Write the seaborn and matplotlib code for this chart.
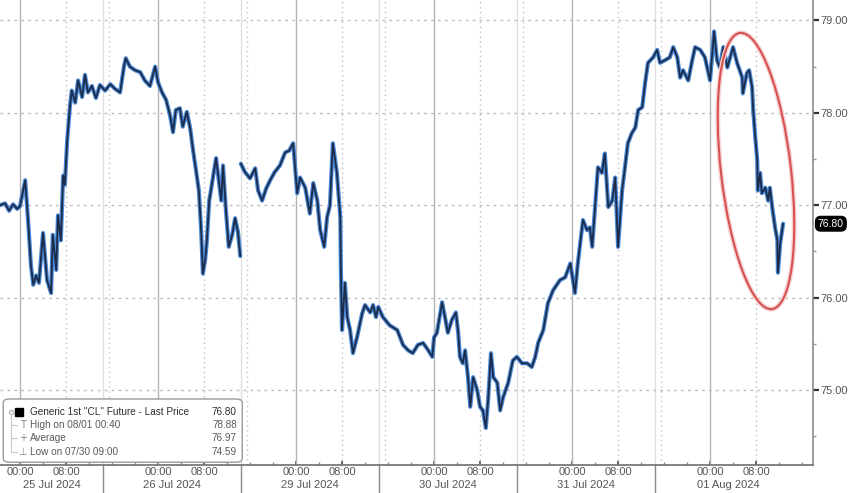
import pandas as pd
import matplotlib.pyplot as plt
import matplotlib.transforms as mtransforms
from matplotlib.patches import Ellipse, FancyBboxPatch
from matplotlib.ticker import FixedLocator, FormatStrFormatter
import seaborn as sns

# 1. theme / fonts
sns.set_theme(style="white")
plt.rcParams["font.family"] = ["Liberation Sans", "DejaVu Sans"]

# 2. data (trading-time hours from 25 Jul 00:00, weekend removed)
hours_jul25_26 = [-3.5, -2.6, -1.9, -1.2, -0.5, 0.0, 0.9, 1.4, 1.9, 2.3, 2.8, 3.3, 4.0, 4.7, 5.4,
                  5.7, 6.3, 6.6, 7.1, 7.5, 7.8, 8.2, 8.7, 9.0, 9.6, 10.1, 10.8, 11.3, 11.8, 12.5,
                  13.2, 13.9, 14.8, 15.7, 16.5, 17.4, 18.1, 18.4, 19.1, 20.0, 20.9, 21.7, 22.6, 23.5,
                  24.0, 24.7, 25.4, 26.1, 26.6, 27.1, 27.8, 28.3, 29.0, 29.6, 30.1, 30.6, 31.1, 31.5,
                  31.8, 32.2, 32.5, 32.9, 33.2, 33.6, 34.1, 34.6, 35.0, 35.3, 35.8, 36.3, 36.9, 37.4,
                  37.9, 38.3]
price_jul25_26 = [77.00, 77.02, 76.94, 77.01, 76.96, 76.99, 77.27, 76.84, 76.35, 76.14, 76.24, 76.16,
                  76.70, 76.19, 76.05, 76.68, 76.30, 76.89, 76.62, 77.32, 77.22, 77.70, 78.08, 78.24,
                  78.11, 78.35, 78.17, 78.41, 78.22, 78.29, 78.16, 78.30, 78.24, 78.31, 78.26, 78.22,
                  78.51, 78.59, 78.50, 78.46, 78.44, 78.35, 78.29, 78.50, 78.33, 78.22, 78.14, 77.97,
                  77.79, 78.03, 78.05, 77.85, 78.01, 77.83, 77.59, 77.38, 77.16, 76.73, 76.26, 76.41,
                  76.62, 77.05, 77.16, 77.32, 77.51, 77.25, 77.05, 77.43, 76.95, 76.55, 76.68, 76.86,
                  76.71, 76.45]

hours_jul29_aug1 = [38.4, 39.1, 40.0, 40.9, 41.4, 42.1, 42.8, 43.5, 44.3, 45.2,
                    46.1, 46.8, 47.5, 48.2, 48.7, 49.6, 50.4, 51.0, 51.7, 52.2,
                    52.9, 53.4, 53.9, 54.4, 55.1, 55.7, 55.8, 56.0, 56.5, 56.9,
                    57.4, 57.9, 58.6, 59.5, 60.0, 60.9, 61.4, 61.9, 62.3, 63.1,
                    64.3, 65.6, 66.6, 67.5, 68.3, 69.2, 70.1, 71.0, 71.7, 72.0,
                    72.5, 73.4, 73.9, 74.4, 75.1, 75.8, 76.2, 76.5, 77.0, 77.4,
                    77.9, 78.3, 78.8, 79.5, 80.0, 80.5, 81.0, 81.4, 81.9, 82.3,
                    83.0, 83.5, 84.0, 84.9, 85.7, 86.4, 87.3, 88.2, 89.0, 89.6,
                    90.1, 91.0, 91.8, 92.7, 93.9, 94.8, 95.7, 96.5, 97.0, 97.9,
                    98.6, 99.1, 99.5, 100.0, 100.5, 101.2, 101.7, 102.3, 103.0, 103.5,
                    104.0, 104.7, 105.2, 105.7, 106.4, 107.0, 107.5, 108.2, 108.7, 109.2,
                    110.1, 110.8, 111.3, 112.2, 113.0, 113.6, 114.3, 114.8, 115.3, 116.2,
                    116.9, 117.4, 118.3, 119.1, 120.0, 120.7, 121.2, 121.7, 122.3, 123.0,
                    123.5, 124.0, 124.7, 125.6, 125.7, 126.4, 126.8, 127.3, 127.5, 127.8,
                    128.2, 128.3, 128.7, 129.0, 129.6, 130.1, 130.4, 130.8, 131.3, 131.7,
                    131.8, 132.2, 132.7]
price_jul29_aug1 = [77.45, 77.36, 77.29, 77.40, 77.16, 77.05, 77.18, 77.27, 77.36, 77.43,
                    77.57, 77.59, 77.67, 77.13, 77.30, 77.19, 76.91, 77.24, 77.05, 76.73,
                    76.55, 76.87, 77.00, 77.67, 77.35, 76.87, 76.30, 75.65, 76.16, 75.79,
                    75.65, 75.40, 75.57, 75.83, 75.92, 75.84, 75.92, 75.79, 75.90, 75.79,
                    75.70, 75.65, 75.49, 75.43, 75.40, 75.49, 75.51, 75.43, 75.36, 75.57,
                    75.62, 75.95, 75.79, 75.62, 75.76, 75.84, 75.62, 75.36, 75.29, 75.43,
                    75.14, 74.82, 75.14, 75.00, 74.82, 74.78, 74.59, 74.89, 75.40, 75.14,
                    75.08, 74.78, 74.92, 75.08, 75.32, 75.36, 75.29, 75.29, 75.25, 75.36,
                    75.51, 75.65, 75.94, 76.08, 76.19, 76.22, 76.37, 76.05, 76.37, 76.84,
                    76.73, 76.76, 76.55, 76.98, 77.41, 77.35, 77.56, 76.98, 77.05, 77.30,
                    76.55, 77.16, 77.41, 77.67, 77.78, 77.84, 78.03, 78.06, 78.32, 78.54,
                    78.60, 78.68, 78.54, 78.57, 78.60, 78.71, 78.60, 78.38, 78.46, 78.35,
                    78.57, 78.71, 78.68, 78.60, 78.35, 78.88, 78.57, 78.49, 78.71, 78.49,
                    78.60, 78.71, 78.54, 78.38, 78.21, 78.43, 78.46, 78.28, 78.03, 77.78,
                    77.49, 77.16, 77.35, 77.13, 77.19, 77.05, 77.19, 76.98, 76.76, 76.62,
                    76.27, 76.59, 76.80]

day_labels = ["25 Jul 2024", "26 Jul 2024", "29 Jul 2024", "30 Jul 2024", "31 Jul 2024", "01 Aug 2024"]
hour_labels = ["00:00", "08:00"]
y_ticks = [75, 76, 77, 78, 79]

legend_labels = ['Generic 1st "CL" Future - Last Price', "High on 08/01 00:40", "Average", "Low on 07/30 09:00"]
legend_values = [76.80, 78.88, 76.97, 74.59]
last_price = 76.80

df1 = pd.DataFrame({"hour": hours_jul25_26, "price": price_jul25_26})
df2 = pd.DataFrame({"hour": hours_jul29_aug1, "price": price_jul29_aug1})

# 3. canvas
fig = plt.figure(figsize=(8.48, 4.93), dpi=100)
ax = fig.add_axes([0, 28 / 493, 813 / 848, 465 / 493])

x_min, x_max = -3.48, 137.9
ax.set_xlim(x_min, x_max)
ax.set_ylim(74.19, 79.22)

# vertical grid: session structure per day
sep_offset = 14.4
for d in range(len(day_labels)):
    base = d * 24
    ax.axvline(base, color="#b4b4b4", lw=1.0, zorder=1)
    ax.axvline(base + 8, color="#bdbdbd", lw=1.0, ls=(0, (1, 2.5)), zorder=1)
    if d < len(day_labels) - 1:
        ax.axvline(base + sep_offset, color="#dedede", lw=0.9, zorder=1)
        ax.axvline(base + sep_offset + 1.0, color="#c4c4c4", lw=1.0, ls=(0, (1, 2.5)), zorder=1)
        ax.axvline(base + sep_offset, ymin=-28 / 465, ymax=0, color="#8a8a8a", lw=1.0, clip_on=False)

# horizontal grid
for yv in y_ticks:
    ax.axhline(yv, color="#bdbdbd", lw=1.0, ls=(0, (2, 3)), zorder=1)

# price line: two-tone like the terminal chart
for df in (df1, df2):
    sns.lineplot(data=df, x="hour", y="price", estimator=None, sort=False,
                 color="#4a88d6", lw=3.0, ax=ax, zorder=3)
    sns.lineplot(data=df, x="hour", y="price", estimator=None, sort=False,
                 color="#1c2b48", lw=1.3, ax=ax, zorder=4)

# axes styling
for s in ["left", "top"]:
    ax.spines[s].set_visible(False)
ax.spines["right"].set_color("#8c8c8c")
ax.spines["bottom"].set_color("#6e6e6e")
ax.spines["right"].set_linewidth(1.2)
ax.spines["bottom"].set_linewidth(1.2)
ax.set_xlabel("")
ax.set_ylabel("")

ax.yaxis.tick_right()
ax.set_yticks(y_ticks)
ax.yaxis.set_major_formatter(FormatStrFormatter("%.2f"))
ax.yaxis.set_minor_locator(FixedLocator([y + 0.5 for y in range(74, 79)]))
ax.tick_params(axis="y", which="major", direction="out", length=4, width=1.6, color="#333333",
               labelsize=8, labelcolor="#555555", pad=1, right=True, left=False)
ax.tick_params(axis="y", which="minor", direction="out", length=2, width=1, color="#999999", right=True, left=False)

xt, xl = [], []
for d in range(len(day_labels)):
    for hl in hour_labels:
        xt.append(d * 24 + int(hl[:2]))
        xl.append(hl)
ax.set_xticks(xt)
ax.set_xticklabels(xl)
ax.xaxis.set_minor_locator(FixedLocator([h for h in range(0, 138, 4)]))
ax.tick_params(axis="x", which="major", direction="in", length=3, color="#555555",
               labelsize=8, labelcolor="#555555", pad=1.5, bottom=True)
ax.tick_params(axis="x", which="minor", direction="in", length=2, color="#888888", bottom=True)

# date labels centred on each session block
blend = mtransforms.blended_transform_factory(ax.transData, ax.transAxes)
bounds = [x_min] + [d * 24 + sep_offset for d in range(len(day_labels) - 1)] + [135.8]
for i, lab in enumerate(day_labels):
    ax.text((bounds[i] + bounds[i + 1]) / 2, -0.043, lab, transform=blend, ha="center", va="center",
            fontsize=8, color="#555555")

# last price tag
tag_tr = mtransforms.blended_transform_factory(ax.transAxes, ax.transData)
ax.text(1.006, last_price, f"{last_price:.2f}", transform=tag_tr, ha="left", va="center",
        fontsize=7.5, color="white", clip_on=False,
        bbox=dict(boxstyle="round,pad=0.22,rounding_size=0.5", fc="black", ec="black"))

# legend box
box = FancyBboxPatch((0.004, 0.006), 0.294, 0.136, transform=ax.transAxes,
                     boxstyle="round,pad=0,rounding_size=0.008", fc="white", ec="#9a9a9a", lw=1.0, zorder=6)
ax.add_patch(box)
rows_y = [0.114, 0.086, 0.057, 0.029]
ax.plot([0.0135, 0.0135], [rows_y[0], rows_y[-1]], transform=ax.transAxes, color="#c8c8c8", lw=0.8, zorder=7)
for ry in rows_y[1:]:
    ax.plot([0.0135, 0.021], [ry, ry], transform=ax.transAxes, color="#c8c8c8", lw=0.8, zorder=7)
ax.plot([0.0135], [rows_y[0]], "o", ms=3, mfc="white", mec="#bbbbbb", transform=ax.transAxes, zorder=7)
ax.plot([0.0235], [rows_y[0]], "s", ms=6, color="black", transform=ax.transAxes, zorder=7)
icons = [None, "T", "+", "\u22a5"]
for i, (lab, val) in enumerate(zip(legend_labels, legend_values)):
    col = "#2e2e2e" if i == 0 else "#5a5a5a"
    if icons[i]:
        ax.text(0.028, rows_y[i], icons[i], transform=ax.transAxes, ha="center", va="center",
                fontsize=7, color="#8a8a8a", zorder=7, family=["DejaVu Sans"])
    ax.text(0.037, rows_y[i], lab, transform=ax.transAxes, ha="left", va="center",
            fontsize=7.2, color=col, zorder=7)
    ax.text(0.2915, rows_y[i], f"{val:.2f}", transform=ax.transAxes, ha="right", va="center",
            fontsize=7.2, color=col, zorder=7)

# red ellipse highlighting the latest sell-off
ell_glow = Ellipse((7.56, 3.22), 0.70, 2.78, angle=6.6, transform=fig.dpi_scale_trans,
                   fill=False, ec="#f6d0d0", lw=3.5, zorder=10)
ell = Ellipse((7.56, 3.22), 0.70, 2.78, angle=6.6, transform=fig.dpi_scale_trans,
              fill=False, ec="#d65252", lw=1.5, zorder=11)
fig.add_artist(ell_glow)
fig.add_artist(ell)

fig.savefig("out.png", dpi=100)
